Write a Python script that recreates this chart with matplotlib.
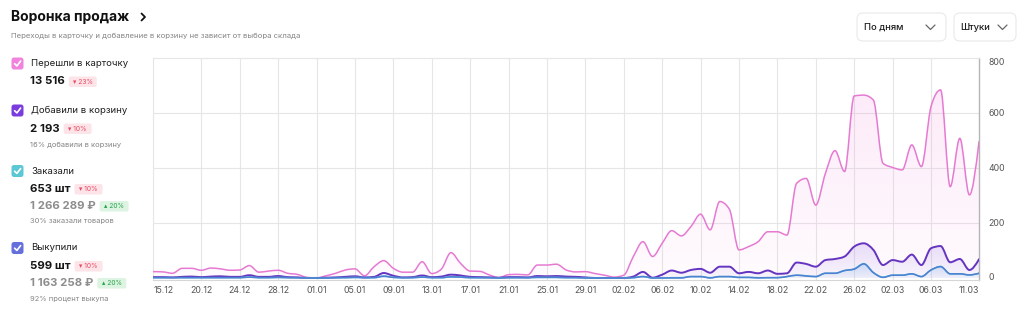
import numpy as np
import pandas as pd
import matplotlib
matplotlib.use("Agg")
import matplotlib.pyplot as plt
from matplotlib.path import Path
from matplotlib.patches import PathPatch, FancyBboxPatch
from matplotlib.lines import Line2D
from matplotlib.transforms import IdentityTransform

plt.rcParams['font.family'] = ['Inter', 'DejaVu Sans']

# ---------------- data ----------------
start_date = "2024-12-15"
pink_views = [23, 22, 17, 35, 35, 28, 36, 33, 28, 29, 45, 21, 25, 28, 17, 13, 2, 0, 8, 17,
              29, 33, 8, 41, 63, 35, 21, 21, 59, 16, 32, 92, 53, 25, 24, 11, 1, 12, 13, 11,
              47, 47, 50, 29, 22, 23, 16, 10, 3, 10, 78, 132, 78, 126, 172, 153, 187, 232, 175, 278,
              250, 102, 114, 132, 168, 168, 156, 344, 362, 265, 380, 463, 387, 662, 665, 647, 417, 402, 393, 484,
              405, 623, 684, 332, 508, 302, 496]
purple_cart = [3, 3, 2, 4, 5, 3, 5, 6, 4, 4, 10, 4, 4, 7, 3, 2, 0, 0, 1, 2,
               4, 6, 2, 4, 18, 8, 2, 3, 9, 3, 5, 12, 9, 4, 3, 2, 1, 3, 3, 2,
               7, 6, 7, 5, 4, 2, 0, 0, 0, 0, 5, 22, 1, 12, 27, 19, 29, 33, 19, 41,
               41, 17, 22, 17, 27, 15, 17, 56, 51, 41, 65, 69, 78, 114, 126, 102, 47, 65, 59, 85,
               47, 108, 116, 57, 69, 29, 68]
teal_orders = [1, 1, 1, 1, 1, 1, 1, 1, 1, 1, 3, 1, 1, 2, 1, 1, 0, 0, 0, 1,
               1, 2, 1, 1, 7, 2, 1, 1, 3, 1, 1, 4, 3, 1, 1, 1, 0, 1, 1, 1,
               2, 2, 2, 1, 1, 0, 0, 0, 0, 0, 1, 5, 0, 0, 1, 1, 5, 5, 1, 5,
               5, 2, 2, 1, 1, 1, 5, 10, 8, 5, 17, 17, 27, 33, 52, 20, 3, 10, 10, 15,
               5, 29, 42, 15, 15, 11, 17]
indigo_bought = [1, 1, 1, 1, 1, 1, 1, 1, 1, 1, 3, 1, 1, 2, 1, 1, 0, 0, 0, 1,
                 1, 2, 1, 1, 6, 2, 1, 1, 3, 1, 1, 4, 3, 1, 1, 1, 0, 1, 1, 1,
                 2, 2, 2, 1, 1, 0, 0, 0, 0, 0, 1, 5, 0, 0, 0, 0, 5, 5, 0, 5,
                 5, 2, 2, 0, 1, 1, 5, 10, 7, 5, 17, 17, 27, 32, 51, 19, 2, 10, 10, 15,
                 5, 29, 41, 15, 15, 11, 17]
tick_labels = ["15.12", "20.12", "24.12", "28.12", "01.01", "05.01", "09.01", "13.01",
               "17.01", "21.01", "25.01", "29.01", "02.02", "06.02", "10.02", "14.02",
               "18.02", "22.02", "26.02", "02.03", "06.03", "11.03"]
y_ticks = [0, 200, 400, 600, 800]

legend_names = ["Перешли в карточку", "Добавили в корзину", "Заказали", "Выкупили"]
legend_values = ["13 516", "2 193", "653 шт", "599 шт"]
legend_changes = ["23%", "10%", "10%", "10%"]
legend_money = [None, None, "1 266 289 ₽", "1 163 258 ₽"]
legend_money_changes = [None, None, "20%", "20%"]
legend_notes = [None, "16% добавили в корзину", "30% заказали товаров", "92% процент выкупа"]

# ---------------- styles ----------------
C_PINK_BOX, C_PURPLE_BOX, C_TEAL_BOX, C_INDIGO_BOX = "#f084dc", "#7a3cdc", "#5cc8d4", "#6670dc"
C_PINK_LINE, C_PURPLE_LINE, C_TEAL_LINE, C_BLUE_LINE = "#e67ad2", "#6534c0", "#5ab8d0", "#4b80d2"
GRID = "#e6e6e6"

W, H = 1024, 318
fig = plt.figure(figsize=(W / 100, H / 100), dpi=100)
fig.patch.set_facecolor("white")

ax_l, ax_r, ax_t, ax_b = 153.3, 979.0, 58.0, 279.6
ax = fig.add_axes([ax_l / W, 1 - ax_b / H, (ax_r - ax_l) / W, (ax_b - ax_t) / H])

dates = pd.date_range(start_date, periods=len(pink_views), freq="D")
xs = np.arange(len(dates), dtype=float)
date_str = list(dates.strftime("%d.%m"))
tick_pos = [date_str.index(t) for t in tick_labels]


def monotone_path(x, y, close=False):
    x = np.asarray(x, float)
    y = np.asarray(y, float)
    n = len(y)
    s = np.diff(y) / np.diff(x)
    m = np.zeros(n)
    for i in range(1, n - 1):
        s0, s1 = s[i - 1], s[i]
        p = (s0 + s1) / 2
        m[i] = (np.sign(s0) + np.sign(s1)) * min(abs(s0), abs(s1), 0.5 * abs(p))
    m[0] = (3 * s[0] - m[1]) / 2
    m[-1] = (3 * s[-1] - m[-2]) / 2
    verts = [(x[0], y[0])]
    codes = [Path.MOVETO]
    for i in range(n - 1):
        h = x[i + 1] - x[i]
        verts += [(x[i] + h / 3, y[i] + m[i] * h / 3),
                  (x[i + 1] - h / 3, y[i + 1] - m[i + 1] * h / 3),
                  (x[i + 1], y[i + 1])]
        codes += [Path.CURVE4] * 3
    if close:
        verts += [(x[-1], 0), (x[0], 0), (x[0], y[0])]
        codes += [Path.LINETO, Path.LINETO, Path.CLOSEPOLY]
    return Path(verts, codes)


def gradient_fill(ax, x, y, color, a_top, a_bot, top, z):
    rgb = matplotlib.colors.to_rgb(color)
    grad = np.zeros((256, 1, 4))
    grad[:, :, :3] = rgb
    grad[:, 0, 3] = np.linspace(a_top, a_bot, 256)
    im = ax.imshow(grad, aspect="auto", extent=[x[0], x[-1], 0, top],
                   origin="upper", zorder=z, interpolation="bilinear")
    clip = PathPatch(monotone_path(x, y, close=True), transform=ax.transData,
                     facecolor="none", edgecolor="none")
    ax.add_patch(clip)
    im.set_clip_path(clip)


def curve(ax, x, y, color, lw, z):
    ax.add_patch(PathPatch(monotone_path(x, y), facecolor="none", edgecolor=color,
                           lw=lw, zorder=z, capstyle="round", joinstyle="round"))


gradient_fill(ax, xs, pink_views, "#f27fd8", 0.16, 0.03, max(pink_views), 1)
gradient_fill(ax, xs, purple_cart, "#9a7ae6", 0.22, 0.05, max(purple_cart), 1.1)
gradient_fill(ax, xs, teal_orders, "#7fb6ee", 0.35, 0.08, max(teal_orders), 1.2)

curve(ax, xs, pink_views, C_PINK_LINE, 1.1, 3)
curve(ax, xs, purple_cart, C_PURPLE_LINE, 1.4, 3.1)
curve(ax, xs, teal_orders, C_TEAL_LINE, 1.1, 3.2)
curve(ax, xs, indigo_bought, C_BLUE_LINE, 1.1, 3.3)

ax.set_xlim(xs[0], xs[-1])
ax.set_ylim(-6, 800)
ax.set_facecolor("white")

for p in tick_pos[1:-1]:
    ax.axvline(p, color=GRID, lw=0.8, zorder=0)
for v in y_ticks[1:-1]:
    ax.axhline(v, color=GRID, lw=0.8, zorder=0)

for side in ["top", "left"]:
    ax.spines[side].set_color(GRID)
    ax.spines[side].set_linewidth(0.8)
ax.spines["bottom"].set_color("#d6d6d6")
ax.spines["bottom"].set_linewidth(0.8)
ax.spines["right"].set_color("#b5b5b5")
ax.spines["right"].set_linewidth(1.0)

ax.yaxis.tick_right()
ax.set_yticks(y_ticks)
ax.set_yticklabels([str(v) for v in y_ticks])
ax.tick_params(axis="y", length=0, pad=7, labelsize=6.3, labelcolor="#555555")
ylabels = ax.get_yticklabels()
ylabels[-1].set_va("top")
ylabels[0].set_va("center")

ax.set_xticks(tick_pos)
ax.set_xticklabels(tick_labels)
ax.tick_params(axis="x", length=0, pad=4.5, labelsize=6.3, labelcolor="#555555")
xl = ax.get_xticklabels()
xl[0].set_ha("left")
xl[-1].set_ha("right")

# ---------------- left panel & header (pixel coords) ----------------
T = IdentityTransform()


def ptext(x, y, s, **kw):
    return fig.text(x / W, 1 - y / H, s, **kw)


def rbox(x, y, w, h, r, fc, ec="none", lw=0.0):
    fig.add_artist(FancyBboxPatch((x, H - y - h), w, h,
                                  boxstyle=f"round,pad=0,rounding_size={r}",
                                  transform=T, facecolor=fc, edgecolor=ec, lw=lw))


def pline(xp, yp, color, lw):
    fig.add_artist(Line2D(xp, [H - v for v in yp], transform=T, color=color, lw=lw,
                          solid_capstyle="round", solid_joinstyle="round"))


ptext(11, 17, "Воронка продаж", fontsize=10, fontweight="bold", color="#111111", va="center")
pline([141.5, 145, 141.5], [13.5, 17, 20.5], "#111111", 1.3)
ptext(11, 35.5, "Переходы в карточку и добавление в корзину не зависит от выбора склада",
      fontsize=5.6, color="#858585", va="center")

box_colors = [C_PINK_BOX, C_PURPLE_BOX, C_TEAL_BOX, C_INDIGO_BOX]
name_y = [63.5, 110.5, 171, 248]
for i in range(4):
    yc = name_y[i]
    rbox(11.5, yc - 6, 12, 12, 2.5, box_colors[i])
    pline([14.6, 16.9, 20.6], [yc + 0.2, yc + 2.4, yc - 2.4], "white", 1.2)
    ptext(31, yc, legend_names[i], fontsize=6.9, color="#1e1e1e", va="center")
    vy = yc + 18
    t = ptext(30, vy, legend_values[i], fontsize=8.2, fontweight="bold",
              color="#161616", va="center")
    fig.canvas.draw()
    bb = t.get_window_extent()
    bx = bb.x1 + 4
    rbox(bx, vy - 5, 28, 10.5, 2, "#fde4e9")
    ptext(bx + 14, vy + 0.3, "▾ " + legend_changes[i], fontsize=4.8,
          color="#e8475e", va="center", ha="center")
    ny = vy + 17
    if legend_money[i] is not None:
        t2 = ptext(30, ny, legend_money[i], fontsize=8.2, fontweight="bold",
                   color="#8d8d8d", va="center")
        fig.canvas.draw()
        bb2 = t2.get_window_extent()
        bx2 = bb2.x1 + 4
        rbox(bx2, ny - 5, 29, 10.5, 2, "#dcf4e1")
        ptext(bx2 + 14.5, ny + 0.3, "▴ " + legend_money_changes[i],
              fontsize=4.8, color="#26a04b", va="center", ha="center")
        ny += 15.5
    else:
        ny -= 1
    if legend_notes[i] is not None:
        ptext(30, ny, legend_notes[i], fontsize=5.4, color="#858585", va="center")

# header buttons
rbox(857, 13, 89, 28, 6, "white", "#e9e9e9", 0.8)
ptext(864, 27.5, "По дням", fontsize=6.8, color="#1e1e1e", va="center", fontweight="medium")
pline([926, 930.5, 935], [25, 29.5, 25], "#666666", 0.9)
rbox(954, 13, 62, 28, 6, "white", "#e9e9e9", 0.8)
ptext(960, 27.5, "Штуки", fontsize=6.8, color="#1e1e1e", va="center", fontweight="medium")
pline([998, 1002.5, 1007], [25, 29.5, 25], "#666666", 0.9)

fig.savefig("out.png", dpi=100, facecolor="white")
